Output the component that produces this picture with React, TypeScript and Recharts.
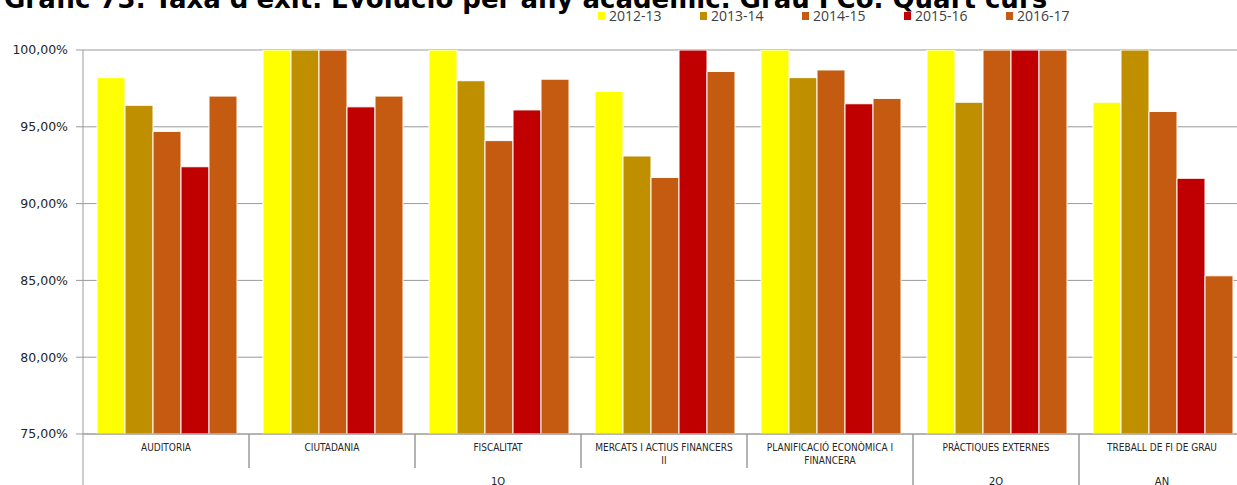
import { BarChart, Bar, XAxis, YAxis, CartesianGrid, Legend } from 'recharts';

const categories = [
    'AUDITORIA',
    'CIUTADANIA',
    'FISCALITAT',
    'MERCATS I ACTIUS FINANCERS II',
    'PLANIFICACIÓ ECONÒMICA I FINANCERA',
    'PRÀCTIQUES EXTERNES',
    'TREBALL DE FI DE GRAU',
];
const groupOf = ['1Q', '1Q', '1Q', '1Q', '1Q', '2Q', 'AN'];
const years = ['2012-13', '2013-14', '2014-15', '2015-16', '2016-17'];
const v2012 = [98.2, 100, 100, 97.3, 100, 100, 96.6];
const v2013 = [96.4, 100, 98.0, 93.1, 98.2, 96.6, 100];
const v2014 = [94.7, 100, 94.1, 91.7, 98.7, 100, 96.0];
const v2015 = [92.4, 96.3, 96.1, 100, 96.5, 100, 91.65];
const v2016 = [97.0, 97.0, 98.1, 98.6, 96.85, 100, 85.3];
const yTicks = [75, 80, 85, 90, 95, 100];
const colors = ['#FFFF00', '#BF8F00', '#C55A11', '#C00000', '#C55A11'];

const series = [v2012, v2013, v2014, v2015, v2016];
const data = categories.map((name, i) => {
    const row: any = { name };
    years.forEach((y, k) => { row[y] = series[k][i]; });
    return row;
});

const PLOT_LEFT = 83;
const PLOT_RIGHT = 1245;
const BAND = (PLOT_RIGHT - PLOT_LEFT) / categories.length;
const LINE = '#9a9a9a';

const wrap = (text: string, max: number) => {
    const lines: string[] = [];
    let cur = '';
    text.split(' ').forEach((w) => {
        const next = cur ? cur + ' ' + w : w;
        if (next.length > max && cur) {
            lines.push(cur);
            cur = w;
        } else {
            cur = next;
        }
    });
    if (cur) lines.push(cur);
    return lines;
};

const CategoryTick = (props: any) => {
    const { x, y, payload, index } = props;
    const lines = wrap(payload.value, 26);
    const left = x - BAND / 2;
    const right = x + BAND / 2;
    const g = groupOf[index];
    const isGroupStart = index === 0 || groupOf[index - 1] !== g;
    const isGroupEnd = index === categories.length - 1 || groupOf[index + 1] !== g;
    let groupLabel = null;
    if (isGroupEnd) {
        let first = index;
        while (first > 0 && groupOf[first - 1] === g) first--;
        const cx = (left - (index - first) * BAND + right) / 2;
        groupLabel = (
            <text x={cx} y={y + 51} textAnchor="middle" fontSize={10} fill="#262626" fontFamily="DejaVu Sans">{g}</text>
        );
    }
    return (
        <g>
            <line x1={left} y1={y} x2={left} y2={isGroupStart ? y + 60 : y + 34} stroke={LINE} />
            <line x1={right} y1={y} x2={right} y2={isGroupEnd ? y + 60 : y + 34} stroke={LINE} />
            {lines.map((l, i) => (
                <text key={i} x={x} y={y + 17 + i * 12.5} textAnchor="middle" fontSize={10} fill="#262626" fontFamily="DejaVu Sans Condensed, DejaVu Sans">{l}</text>
            ))}
            {groupLabel}
        </g>
    );
};

const LegendContent = () => (
    <div style={{ display: 'flex', height: 20, alignItems: 'center' }}>
        {years.map((y, i) => (
            <div key={y} style={{ width: 102, display: 'flex', alignItems: 'center' }}>
                <span style={{ width: 7, height: 8, background: colors[i], display: 'inline-block', marginRight: 4, flex: 'none' }} />
                <span style={{ fontFamily: 'Open Sans', fontSize: 14, lineHeight: '20px', color: '#404040' }}>{y}</span>
            </div>
        ))}
    </div>
);

export default function App() {
    return (
        <div style={{ position: 'absolute', left: 0, top: 0, width: 1237, height: 485, overflow: 'hidden', background: '#fff' }}>
            <svg width={1237} height={20} style={{ position: 'absolute', left: 0, top: 0 }}>
                <text x={4} y={8} fontFamily="DejaVu Sans" fontWeight="bold" fontSize={26} fill="#000">
                    Gràfic 73. Taxa d'èxit. Evolució per any acadèmic. Grau FCo. Quart curs
                </text>
            </svg>
            <BarChart
                width={1250}
                height={494}
                data={data}
                margin={{ top: 30, right: 5, bottom: 0, left: 0 }}
                barCategoryGap={14}
                barGap={0}
                style={{ position: 'absolute', left: 0, top: 0 }}
            >
                <CartesianGrid vertical={false} stroke={LINE} strokeWidth={1} />
                <XAxis
                    dataKey="name"
                    interval={0}
                    height={60}
                    tickSize={0}
                    tickMargin={0}
                    axisLine={{ stroke: LINE }}
                    tick={<CategoryTick />}
                />
                <YAxis
                    width={83}
                    domain={[75, 100]}
                    ticks={yTicks}
                    tickSize={7}
                    tickMargin={8}
                    axisLine={{ stroke: LINE }}
                    tickLine={{ stroke: LINE }}
                    tick={{ fontSize: 12.5, fill: '#262626', fontFamily: 'DejaVu Sans' }}
                    tickFormatter={(v: number) => v.toFixed(2).replace('.', ',') + '%'}
                    allowDataOverflow
                />
                <Legend
                    verticalAlign="top"
                    content={<LegendContent />}
                    wrapperStyle={{ top: 6, left: 598, width: 520 }}
                />
                {years.map((y, i) => (
                    <Bar key={y} dataKey={y} fill={colors[i]} stroke="#fff" strokeWidth={1} isAnimationActive={false} />
                ))}
            </BarChart>
        </div>
    );
}
